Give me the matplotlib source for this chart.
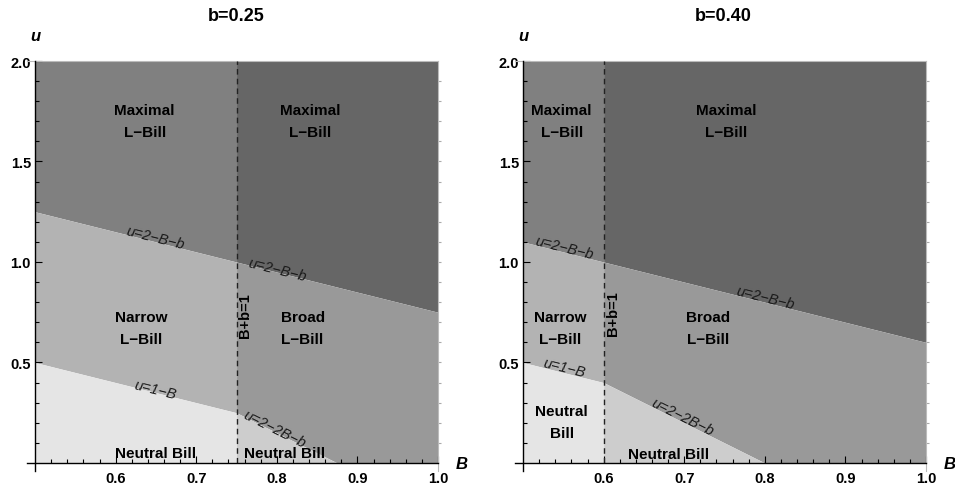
import numpy as np
import matplotlib
matplotlib.use("Agg")
import matplotlib.pyplot as plt
from matplotlib.ticker import FixedLocator

plt.rcParams['font.family'] = ['Liberation Sans', 'DejaVu Sans']

# panel parameters
b_vals = [0.25, 0.40]
titles = ["b=0.25", "b=0.40"]
split_B = [0.75, 0.60]          # B+b=1

# boundary lines (B, u)
upper_B = [[0.5, 1.0], [0.5, 1.0]]                 # u=2-B-b
upper_u = [[1.25, 0.75], [1.10, 0.60]]
lower_B = [[0.5, 0.75, 0.875, 1.0], [0.5, 0.6, 0.8, 1.0]]   # u=1-B then u=2-2B-b
lower_u = [[0.5, 0.25, 0.0, 0.0], [0.5, 0.4, 0.0, 0.0]]

# fill colours
c_max_left = "#808080"
c_max_right = "#666666"
c_narrow = "#b3b3b3"
c_broad = "#999999"
c_neutral_left = "#e5e5e5"
c_neutral_right = "#cdcdcd"

# text labels: (B, u, text)
region_labels = [
    [(0.636, 1.70, "Maximal\nL\u2212Bill"), (0.841, 1.70, "Maximal\nL\u2212Bill"),
     (0.632, 0.67, "Narrow\nL\u2212Bill"), (0.832, 0.67, "Broad\nL\u2212Bill"),
     (0.649, 0.052, "Neutral Bill"), (0.810, 0.052, "Neutral Bill")],
    [(0.548, 1.70, "Maximal\nL\u2212Bill"), (0.752, 1.70, "Maximal\nL\u2212Bill"),
     (0.546, 0.67, "Narrow\nL\u2212Bill"), (0.730, 0.67, "Broad\nL\u2212Bill"),
     (0.548, 0.205, "Neutral\nBill"), (0.680, 0.045, "Neutral Bill")],
]
line_labels = [
    [(0.649, 1.122, "u=2\u2212B\u2212b", -14), (0.800, 0.965, "u=2\u2212B\u2212b", -14),
     (0.649, 0.365, "u=1\u2212B", -14), (0.797, 0.17, "u=2\u22122B\u2212b", -26.5)],
    [(0.551, 1.074, "u=2\u2212B\u2212b", -14), (0.800, 0.826, "u=2\u2212B\u2212b", -14),
     (0.551, 0.477, "u=1\u2212B", -14), (0.698, 0.229, "u=2\u22122B\u2212b", -26.5)],
]
split_label_pos = [(0.760, 0.74), (0.611, 0.75)]

fig = plt.figure(figsize=(9.55, 4.89), dpi=100)
lefts = [27 / 955, 515 / 955]

for i in range(2):
    ax = fig.add_axes([lefts[i], 17 / 489, 411 / 955, 410 / 489])
    s = split_B[i]

    def region(x0, x1, lo, hi, color):
        xs = np.unique(np.concatenate([[x0, x1], [v for v in lower_B[i] + upper_B[i] if x0 < v < x1]]))
        if lo == "zero":
            ylo = np.zeros_like(xs)
        elif lo == "low":
            ylo = np.interp(xs, lower_B[i], lower_u[i])
        else:
            ylo = np.interp(xs, upper_B[i], upper_u[i])
        if hi == "top":
            yhi = np.full_like(xs, 2.0)
        elif hi == "low":
            yhi = np.interp(xs, lower_B[i], lower_u[i])
        else:
            yhi = np.interp(xs, upper_B[i], upper_u[i])
        ax.fill_between(xs, ylo, yhi, color=color, lw=0, zorder=1)

    region(0.5, s, "up", "top", c_max_left)
    region(s, 1.0, "up", "top", c_max_right)
    region(0.5, s, "low", "up", c_narrow)
    region(s, 1.0, "low", "up", c_broad)
    region(0.5, s, "zero", "low", c_neutral_left)
    region(s, 1.0, "zero", "low", c_neutral_right)

    ax.plot([s, s], [0, 2.0], color="#222222", lw=1, dashes=(4, 3), zorder=3)

    for x, y, t in region_labels[i]:
        ax.text(x, y, t, ha="center", va="center", fontsize=11, fontweight="bold",
                linespacing=1.75, color="black", zorder=4)
    for x, y, t, r in line_labels[i]:
        ax.text(x, y, t, ha="center", va="center", fontsize=10.5, fontstyle="italic",
                rotation=r, rotation_mode="anchor", color="#1a1a1a", zorder=4)
    sx, sy = split_label_pos[i]
    ax.text(sx, sy, "B+b=1", ha="center", va="center", rotation=90, fontsize=10.5,
            fontweight="bold", color="black", zorder=4)

    ax.set_xlim(0.49, 1.0)
    ax.set_ylim(-0.04, 2.0)
    ax.set_facecolor("none")
    ax.spines["left"].set_position(("data", 0.5))
    ax.spines["bottom"].set_position(("data", 0.0))
    ax.spines["top"].set_color("#bbbbbb")
    ax.spines["right"].set_color("#bbbbbb")
    ax.spines["top"].set_linewidth(0.8)
    ax.spines["right"].set_linewidth(0.8)
    for sp in ["left", "bottom"]:
        ax.spines[sp].set_linewidth(1.0)
        ax.spines[sp].set_zorder(5)

    ax.xaxis.set_major_locator(FixedLocator([0.6, 0.7, 0.8, 0.9, 1.0]))
    ax.xaxis.set_minor_locator(FixedLocator(np.round(np.arange(0.52, 1.0, 0.02), 2)))
    ax.yaxis.set_major_locator(FixedLocator([0.5, 1.0, 1.5, 2.0]))
    ax.yaxis.set_minor_locator(FixedLocator(np.round(np.arange(0.1, 2.0, 0.1), 1)))
    ax.tick_params(axis="both", which="both", direction="in", width=0.8)
    ax.tick_params(axis="both", which="major", length=5, labelsize=10.5)
    ax.tick_params(axis="both", which="minor", length=3)
    ax.tick_params(axis="x", pad=6)
    ax.tick_params(axis="y", pad=3)
    for lab in ax.get_xticklabels() + ax.get_yticklabels():
        lab.set_fontweight("bold")

    # faint frame ticks
    top = ax.secondary_xaxis("top")
    top.xaxis.set_major_locator(FixedLocator(np.round(np.arange(0.525, 1.0, 0.025), 3)))
    top.tick_params(direction="in", length=2, color="#aaaaaa", labeltop=False)
    top.spines["top"].set_visible(False)
    right = ax.secondary_yaxis("right")
    right.yaxis.set_major_locator(FixedLocator(np.round(np.arange(0.1, 2.0, 0.1), 1)))
    right.tick_params(direction="out", length=2, color="#aaaaaa", labelright=False)
    right.spines["right"].set_visible(False)

    ax.text(0.5, 2.125, "u", ha="center", va="center", fontsize=12, fontweight="bold",
            fontstyle="italic", clip_on=False)
    ax.text(1.03, -0.005, "B", ha="center", va="center", fontsize=12, fontweight="bold",
            fontstyle="italic", clip_on=False)
    ax.text(0.749, 2.225, titles[i], ha="center", va="center", fontsize=13,
            fontweight="bold", clip_on=False)

fig.savefig("out.png", dpi=100)
